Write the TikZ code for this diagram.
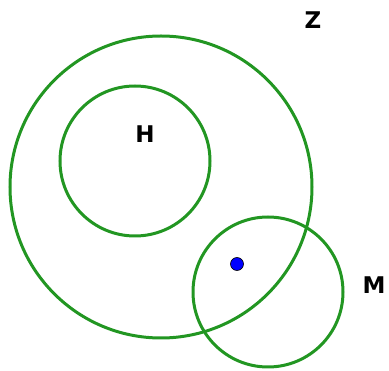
\documentclass[tikz,border=0pt]{standalone}
\usepackage{fontspec}
\setmainfont{DejaVu Sans}
\begin{document}
\begin{tikzpicture}[
  x=1pt,y=-1pt,
  ring/.style={draw=ringgreen,line width=3pt,circle,inner sep=0pt},
  tag/.style={font=\bfseries\fontsize{23}{27}\selectfont,inner sep=0pt}
]
  \definecolor{ringgreen}{RGB}{34,150,34}
  \useasboundingbox (0,0) rectangle (389,371);
  \node[ring,minimum size=302pt] (zset) at (161,187) {};
  \node[ring,minimum size=150pt] (hset) at (135,161) {};
  \node[ring,minimum size=150pt] (mset) at (268,292) {};
  \node[circle,fill=blue,draw=black,line width=0.6pt,minimum size=13pt,inner sep=0pt] (pt) at (237,264) {};
  \node[tag] (zlab) at (313,20) {Z};
  \node[tag] (hlab) at (145,134) {H};
  \node[tag] (mlab) at (374,285) {M};
\end{tikzpicture}
\end{document}
